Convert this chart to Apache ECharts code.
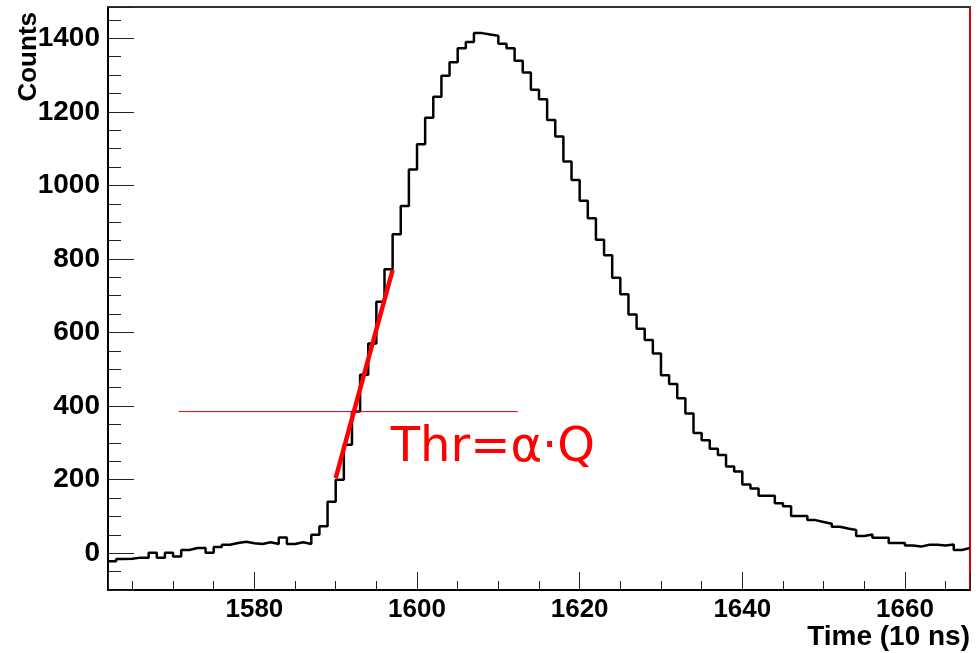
<!DOCTYPE html>
<html>
<head>
<meta charset="utf-8">
<script src="https://cdn.jsdelivr.net/npm/echarts@6/dist/echarts.min.js"></script>
<style>
html,body{margin:0;padding:0;background:#fff;}
#chart{width:979px;height:653px;}
</style>
</head>
<body>
<div id="chart"></div>
<script>
// ---- data ----
const binStart = 1562;       // low edge of first bin (10 ns units)
const binWidth = 1;
const counts = [
  -22, -16, -15, -12, -12, 1, -12, 1, -9, 9,
  14, 14, 1, 17, 23, 28, 31, 27, 25, 30,
  25, 43, 25, 30, 25, 50, 73, 140, 200, 295,
  385, 485, 570, 684, 772, 867, 944, 1043, 1112, 1184,
  1241, 1298, 1335, 1373, 1390, 1414, 1410, 1407, 1385, 1373,
  1339, 1307, 1260, 1234, 1178, 1133, 1065, 1015, 958, 911,
  852, 810, 749, 704, 649, 610, 580, 543, 484, 460,
  421, 380, 327, 307, 284, 267, 236, 222, 187, 176,
  156, 156, 136, 128, 101, 101, 90, 85, 80, 72,
  67, 63, 47, 51, 42, 42, 28, 28, 21, 18,
  23, 23, 21, 24, 9, 14
];
const fitX = [1590, 1597];
const fitY = [204, 770];
const thrX = [1570.7, 1612.4];
const thrY = [385, 385];
const labelPos = [1596.7, 284];
const labelText = 'Thr=α·Q';
const xRange = [1562, 1668];
const yRange = [-100, 1485];
const xTitle = 'Time (10 ns)';
const yTitle = 'Counts';

// ---- build ----
const histData = counts.map((c, i) => [binStart + i * binWidth, c]);
histData.push([binStart + counts.length * binWidth, counts[counts.length - 1]]);

const chart = echarts.init(document.getElementById('chart'), null, {renderer: 'canvas'});
const fontBase = {fontFamily: 'Liberation Sans', fontWeight: 'bold', color: '#000'};

chart.setOption({
  animation: false,
  backgroundColor: '#fff',
  grid: {left: 108, right: 9, top: 7, bottom: 63, containLabel: false, outerBoundsMode: 'none'},
  xAxis: [{
    type: 'value', min: xRange[0], max: xRange[1], splitNumber: 5,
    minInterval: 20, maxInterval: 20,
    axisLine: {show: true, onZero: false, lineStyle: {color: '#000', width: 2}},
    axisTick: {show: true, inside: true, length: 18, lineStyle: {color: '#222', width: 1}},
    minorTick: {show: true, splitNumber: 4, length: 9, lineStyle: {color: '#222', width: 1}},
    splitLine: {show: false},
    axisLabel: Object.assign({margin: 7, fontSize: 26, showMinLabel: false, showMaxLabel: false,
      formatter: v => (v % 20 === 0 ? String(v) : '')}, fontBase)
  }, {
    type: 'value', position: 'top', min: xRange[0], max: xRange[1],
    axisLine: {show: true, onZero: false, lineStyle: {color: '#333', width: 2}},
    axisTick: {show: false}, axisLabel: {show: false}, splitLine: {show: false}
  }],
  yAxis: [{
    type: 'value', min: yRange[0], max: yRange[1], splitNumber: 8,
    minInterval: 200, maxInterval: 200,
    axisLine: {show: true, onZero: false, lineStyle: {color: '#000', width: 2}},
    axisTick: {show: true, inside: true, length: 26, lineStyle: {color: '#222', width: 1}},
    minorTick: {show: true, splitNumber: 4, length: 13, lineStyle: {color: '#222', width: 1}},
    splitLine: {show: false},
    axisLabel: Object.assign({margin: 8, fontSize: 28, showMinLabel: false, showMaxLabel: false,
      formatter: v => (v % 200 === 0 ? String(v) : '')}, fontBase)
  }, {
    type: 'value', position: 'right', min: yRange[0], max: yRange[1],
    axisLine: {show: true, onZero: false, lineStyle: {color: '#e00000', width: 2}},
    axisTick: {show: false}, axisLabel: {show: false}, splitLine: {show: false}
  }],
  graphic: [{
    type: 'text', left: 16, top: 12,
    rotation: Math.PI / 2,
    style: {text: yTitle, fill: '#000', font: 'bold 26px "Liberation Sans"'}
  }, {
    type: 'text', right: 9, top: 623,
    style: {text: xTitle, fill: '#000', font: 'bold 28px "Liberation Sans"'}
  }],
  series: [{
    type: 'line', step: 'end', data: histData, showSymbol: false,
    lineStyle: {color: '#000', width: 2.5}, z: 2
  }, {
    type: 'line', data: thrX.map((x, i) => [x, thrY[i]]), showSymbol: false,
    lineStyle: {color: '#e00000', width: 1}, z: 3
  }, {
    type: 'line', data: fitX.map((x, i) => [x, fitY[i]]), showSymbol: false,
    lineStyle: {color: '#ff0000', width: 4.5, cap: 'butt'}, z: 4
  }, {
    type: 'scatter', data: [labelPos], symbolSize: 1,
    itemStyle: {color: 'rgba(0,0,0,0)'},
    label: {show: true, position: 'right', distance: 0, formatter: labelText,
      color: '#ff0000', opacity: 1, textBorderWidth: 0,
      fontSize: 48, fontFamily: 'DejaVu Sans'}, z: 5
  }]
});
</script>
</body>
</html>
